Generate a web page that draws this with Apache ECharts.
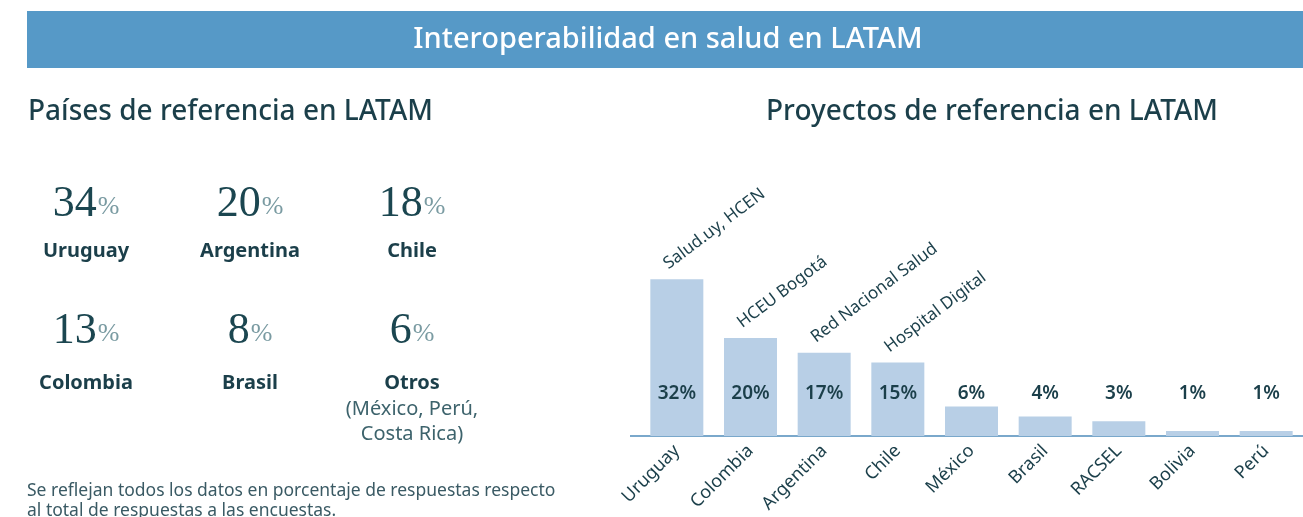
<!DOCTYPE html>
<html lang="es">
<head>
    <meta charset="UTF-8">
    <title>Interoperabilidad en salud en LATAM</title>
    <script src="https://cdn.jsdelivr.net/npm/echarts@6/dist/echarts.min.js"></script>
</head>
<style>
    *{
        margin: 0;
        padding: 0;
    }
    html , body{
        width: 1303px;
        height: 517px;
        background: #fff;
    }
    .container{
        width: 1303px;
        height: 517px;
    }
</style>
<body>
<div class="container"></div>
<script>
    // países de referencia (izquierda)
    let countries = ['Uruguay', 'Argentina', 'Chile', 'Colombia', 'Brasil', 'Otros'];
    let countryShares = [34, 20, 18, 13, 8, 6];
    let otrosNote = ['(México, Perú,', 'Costa Rica)'];

    // proyectos de referencia (derecha)
    let projects = ['Uruguay', 'Colombia', 'Argentina', 'Chile', 'México', 'Brasil', 'RACSEL', 'Bolivia', 'Perú'];
    let projectShares = [32, 20, 17, 15, 6, 4, 3, 1, 1];
    let projectNames = ['Salud.uy, HCEN', 'HCEU Bogotá', 'Red Nacional Salud', 'Hospital Digital', '', '', '', '', ''];

    let container = document.querySelector('.container');
    let mycharts = echarts.init(container);

    const dark = '#1b3f4a';
    const sans = '"Noto Sans", "Open Sans", sans-serif';

    let graphic = [
        {type: 'rect', shape: {x: 27, y: 11, width: 1276, height: 57}, style: {fill: '#5699c7'}},
        {type: 'text', x: 668, y: 40, style: {text: 'Interoperabilidad en salud en LATAM', fill: '#fff',
                font: '500 29px ' + sans, align: 'center', verticalAlign: 'middle'}},
        {type: 'text', x: 28, y: 112, style: {text: 'Países de referencia en LATAM', fill: dark,
                font: '500 28px ' + sans, align: 'left', verticalAlign: 'middle'}},
        {type: 'text', x: 992, y: 112, style: {text: 'Proyectos de referencia en LATAM', fill: dark,
                font: '500 28px ' + sans, align: 'center', verticalAlign: 'middle'}},
        {type: 'text', x: 27, y: 491, style: {text: 'Se reflejan todos los datos en porcentaje de respuestas respecto', fill: '#3a5a64',
                font: '17.5px ' + sans, align: 'left', verticalAlign: 'middle'}},
        {type: 'text', x: 27, y: 511, style: {text: 'al total de respuestas a las encuestas.', fill: '#3a5a64',
                font: '17.5px ' + sans, align: 'left', verticalAlign: 'middle'}},
        // prolongación de la línea base hacia la izquierda
        {type: 'line', shape: {x1: 630, y1: 436, x2: 641, y2: 436}, style: {stroke: '#7aa8cb', lineWidth: 2}}
    ];

    let colX = [86, 250, 412];
    let rowNumY = [204, 331];
    let rowNameY = [251, 383];
    countries.forEach((c, i) => {
        let x = colX[i % 3];
        let r = Math.floor(i / 3);
        graphic.push({
            type: 'text', x: x, y: rowNumY[r],
            style: {
                text: '{n|' + countryShares[i] + '}{p|%}',
                align: 'center', verticalAlign: 'middle',
                rich: {
                    n: {fontFamily: '"Liberation Serif", serif', fontSize: 44, fill: '#1b4650', color: '#1b4650'},
                    p: {fontFamily: '"Liberation Serif", serif', fontSize: 26, fill: '#7a9ba2', color: '#7a9ba2', padding: [6, 0, 0, 1]}
                }
            }
        });
        graphic.push({
            type: 'text', x: x, y: rowNameY[r],
            style: {text: c, fill: dark, font: 'bold 20px ' + sans, align: 'center', verticalAlign: 'middle'}
        });
    });
    otrosNote.forEach((t, i) => {
        graphic.push({
            type: 'text', x: 412, y: 409 + i * 25,
            style: {text: t, fill: '#3d636c', font: '20px ' + sans, align: 'center', verticalAlign: 'middle'}
        });
    });

    let barData = projectShares.map((v, i) => ({
        value: v,
        label: {
            show: projectNames[i] !== '',
            position: 'top',
            formatter: projectNames[i],
            rotate: 37,
            align: 'left',
            verticalAlign: 'middle',
            distance: 22,
            offset: [-14, 0],
            fontFamily: sans,
            fontSize: 17,
            color: dark
        }
    }));

    let options = {
        animation: false,
        graphic,
        grid: {left: 640, right: 0, top: 240, bottom: 81},
        xAxis: {
            type: 'category',
            data: projects,
            axisLine: {lineStyle: {color: '#7aa8cb', width: 2}},
            axisTick: {show: false},
            axisLabel: {
                rotate: 45,
                margin: 12,
                fontFamily: sans,
                fontSize: 18,
                color: dark,
                interval: 0
            }
        },
        yAxis: {
            type: 'value',
            min: 0,
            max: 40,
            show: false
        },
        series: [
            {
                type: 'bar',
                data: barData,
                barWidth: 53,
                itemStyle: {color: '#b8cfe6'}
            },
            {
                // etiquetas de porcentaje dentro de las barras
                type: 'bar',
                data: projectShares,
                barWidth: 53,
                barGap: '-100%',
                itemStyle: {color: 'rgba(0,0,0,0)'},
                label: {
                    show: true,
                    position: 'insideBottom',
                    distance: 33,
                    formatter: '{c}%',
                    fontFamily: sans,
                    fontSize: 19,
                    fontWeight: 600,
                    color: dark
                },
                z: 3
            }
        ]
    };

    mycharts.setOption(options);
</script>
</body>
</html>
